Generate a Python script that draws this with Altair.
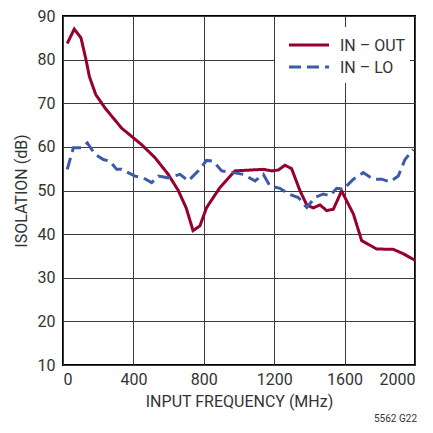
import altair as alt
import pandas as pd

out_freq = [24, 64, 102, 129, 150, 186, 239, 333, 447, 523, 598, 655, 700, 739, 778, 816, 892, 977, 1138, 1186, 1224, 1261, 1299, 1347, 1385, 1422, 1460, 1498, 1536, 1583, 1650, 1697, 1782, 1877, 1934, 2000]
out_db = [83.7, 87.0, 85.0, 80.3, 76.1, 72.0, 68.9, 64.3, 60.5, 57.5, 53.7, 50.0, 46.0, 40.8, 41.9, 46.1, 50.7, 54.5, 54.85, 54.5, 54.7, 55.8, 55.0, 49.9, 46.7, 46.0, 46.7, 45.4, 45.7, 49.9, 44.6, 38.5, 36.6, 36.5, 35.5, 34.0]

lo_freq = [24, 59, 102, 138, 182, 229, 267, 305, 333, 409, 456, 504, 542, 598, 665, 712, 769, 816, 854, 902, 968, 1024, 1091, 1138, 1176, 1233, 1280, 1337, 1385, 1432, 1479, 1517, 1555, 1593, 1650, 1706, 1763, 1811, 1858, 1905, 1943, 1990]
lo_db = [54.85, 59.8, 59.8, 60.9, 58.3, 57.1, 56.7, 54.85, 54.85, 53.3, 52.9, 51.8, 53.3, 52.9, 53.7, 52.2, 54.5, 56.9, 56.7, 54.5, 54.1, 53.7, 52.2, 53.7, 51.0, 50.5, 49.2, 48.4, 46.1, 48.4, 49.2, 48.8, 50.5, 50.3, 52.6, 54.1, 52.6, 52.6, 52.0, 53.3, 57.1, 59.4]

series_names = ["IN – OUT", "IN – LO"]
series_colors = ["#960030", "#3B5BA9"]
series_dash = [[1, 0], [12, 6]]
x_ticks = [0, 400, 800, 1200, 1600, 2000]
y_ticks = [10, 20, 30, 40, 50, 60, 70, 80, 90]

df = pd.concat([
    pd.DataFrame({"f": out_freq, "db": out_db, "s": series_names[0], "o": range(len(out_freq))}),
    pd.DataFrame({"f": lo_freq, "db": lo_db, "s": series_names[1], "o": range(len(lo_freq))}),
])

FONT = "Roboto"

lines = alt.Chart(df).mark_line(strokeWidth=3, clip=True).encode(
    x=alt.X("f:Q", scale=alt.Scale(domain=[0, 2000], nice=False),
            axis=alt.Axis(values=x_ticks, format="d", title="INPUT FREQUENCY (MHz)",
                          labelPadding=6, titlePadding=6)),
    y=alt.Y("db:Q", scale=alt.Scale(domain=[10, 90], nice=False),
            axis=alt.Axis(values=y_ticks, title="ISOLATION (dB)", labelPadding=8, titlePadding=8)),
    color=alt.Color("s:N", scale=alt.Scale(domain=series_names, range=series_colors), legend=None),
    strokeDash=alt.StrokeDash("s:N", scale=alt.Scale(domain=series_names, range=series_dash), legend=None),
    order="o:Q",
)

one = pd.DataFrame({"k": [0]})
legend_bg = alt.Chart(one).mark_rect(fill="white", stroke=None).encode(
    x=alt.value(212), x2=alt.value(347), y=alt.value(11), y2=alt.value(67))

legend_layers = [legend_bg]
for i, (name, col, dash) in enumerate(zip(series_names, series_colors, series_dash)):
    ypos = 29 + 22 * i
    legend_layers.append(alt.Chart(one).mark_rule(color=col, strokeWidth=3, strokeDash=dash).encode(
        x=alt.value(226), x2=alt.value(266), y=alt.value(ypos)))
    legend_layers.append(alt.Chart(pd.DataFrame({"t": [name]})).mark_text(
        align="left", baseline="middle", fontSize=16, font=FONT, color="#333").encode(
        x=alt.value(277), y=alt.value(ypos + 1), text="t:N"))

note = alt.Chart(pd.DataFrame({"t": ["5562 G22"]})).mark_text(
    align="right", baseline="alphabetic", fontSize=10, font=FONT, color="#333", clip=False
).encode(x=alt.value(354), y=alt.value(406), text="t:N")

chart = alt.layer(lines, *legend_layers, note).properties(
    width=352, height=349,
    autosize=alt.AutoSizeParams(type="none"),
    padding={"left": 55, "top": 8, "right": 10, "bottom": 60},
).configure_view(stroke="black", strokeWidth=2).configure_axis(
    grid=True, gridColor="#3a3a3a", gridWidth=1, gridOpacity=1, domain=False, ticks=False,
    labelFont=FONT, labelFontSize=16, labelColor="#333",
    titleFont=FONT, titleFontSize=16, titleFontWeight="normal", titleColor="#333",
)

chart.save("out.html", embed_options={"renderer": "svg", "actions": False})
